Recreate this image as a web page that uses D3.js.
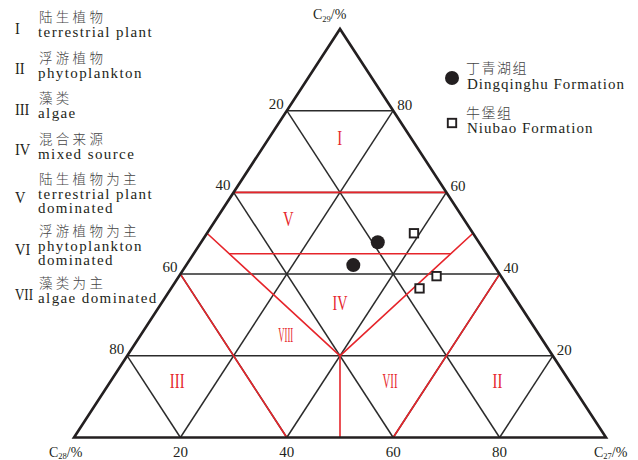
<!DOCTYPE html>
<html>
<head>
<meta charset="utf-8">
<script src="https://cdn.jsdelivr.net/npm/d3@7"></script>
<style>
  html, body { margin: 0; padding: 0; background: #fff; }
  svg { display: block; }
</style>
</head>
<body>
<script>
// Ternary diagram of sterane composition: C27 (lower right), C28 (lower left), C29 (apex).
// Every point is given as [C27, C28, C29] in percent.

const gridTicks = [20, 40, 60, 80];
const edgeTicks = [20, 40, 60, 80];

// Samples
const dingqinghu = [[33.2, 19.0, 47.8], [31.4, 26.4, 42.2]];
const niubao = [[38.9, 11.1, 50.0], [48.4, 12.1, 39.5], [46.7, 16.8, 36.5]];

// Source-zone boundaries (polylines)
const zoneLines = [
  [[0, 40, 60], [40, 0, 60]],
  [[0, 60, 40], [40, 60, 0]],
  [[60, 0, 40], [60, 40, 0]],
  [[0, 50, 50], [40, 40, 20], [50, 0, 50]],
  [[40, 40, 20], [50, 50, 0]],
  [[20 / 3, 145 / 3, 45], [145 / 3, 20 / 3, 45]]
];

// Zone numerals and where they sit
const zoneIds = ["I", "II", "III", "IV", "V", "VII", "VIII"];
const zoneAt = [
  [13.3, 13.4, 73.3],
  [72.6, 13.4, 14.0],
  [12.4, 73.6, 14.0],
  [33.5, 33.5, 33.0],
  [13.5, 32.9, 53.6],
  [52.4, 33.6, 14.0],
  [27.2, 47.6, 25.2]
];

// Legend of source types
const legendIds = ["I", "II", "III", "IV", "V", "VI", "VII"];
const legendZh = ["陆生植物", "浮游植物", "藻类", "混合来源", "陆生植物为主", "浮游植物为主", "藻类为主"];
const legendEn = [
  ["terrestrial plant"],
  ["phytoplankton"],
  ["algae"],
  ["mixed source"],
  ["terrestrial plant", "dominated"],
  ["phytoplankton", "dominated"],
  ["algae dominated"]
];

// Sample legend
const seriesZh = ["丁青湖组", "牛堡组"];
const seriesEn = ["Dingqinghu Formation", "Niubao Formation"];

const W = 638, H = 460;
const INK = "#231f20", GRID = "#2b2b2b", RED = "#e6252b";
const SERIF = "'Liberation Serif', 'DejaVu Serif', serif";
const CJK = "'Noto Sans CJK SC', sans-serif";

const svg = d3.select("body").append("svg")
  .attr("width", W).attr("height", H)
  .attr("viewBox", `0 0 ${W} ${H}`);

// Horizontal position follows C27 + C29/2, vertical follows C29
const xs = d3.scaleLinear().domain([0, 100]).range([74, 606]);
const ys = d3.scaleLinear().domain([0, 100]).range([437.5, 29]);
const P = ([a, b, c]) => [xs(a + c / 2), ys(c)];
const line = d3.line().x(d => P(d)[0]).y(d => P(d)[1]);

// Grid lines
const gridSegs = [];
gridTicks.forEach(t => {
  gridSegs.push([[0, 100 - t, t], [100 - t, 0, t]]);   // constant C29
  gridSegs.push([[t, 100 - t, 0], [t, 0, 100 - t]]);   // constant C27
  gridSegs.push([[100 - t, t, 0], [0, t, 100 - t]]);   // constant C28
});
svg.append("g").selectAll("path").data(gridSegs).join("path")
  .attr("d", line).attr("fill", "none")
  .attr("stroke", GRID).attr("stroke-width", 1.5);

// Zone boundaries
svg.append("g").selectAll("path").data(zoneLines).join("path")
  .attr("d", line).attr("fill", "none")
  .attr("stroke", RED).attr("stroke-width", 1.6)
  .attr("stroke-linejoin", "miter");

// Outer triangle
svg.append("path")
  .attr("d", line([[100, 0, 0], [0, 0, 100], [0, 100, 0]]) + "Z")
  .attr("fill", "none").attr("stroke", INK).attr("stroke-width", 2.6)
  .attr("stroke-linejoin", "miter");

// Squeeze Roman numerals into narrow, tall glyph boxes
function squeeze(sel, ratio, maxW) {
  sel.each(function () {
    const len = this.getComputedTextLength();
    d3.select(this).attr("textLength", Math.min(len * ratio, maxW))
      .attr("lengthAdjust", "spacingAndGlyphs");
  });
}

// Zone numerals
svg.append("g").selectAll("text").data(zoneIds).join("text")
  .attr("x", (d, i) => P(zoneAt[i])[0])
  .attr("y", (d, i) => P(zoneAt[i])[1])
  .attr("dy", "0.35em")
  .attr("text-anchor", "middle")
  .attr("font-family", SERIF).attr("font-size", 21)
  .attr("fill", RED)
  .text(d => d)
  .call(squeeze, 0.7, 15);

// Edge tick labels
const tickStyle = s => s.attr("font-family", SERIF).attr("font-size", 15).attr("fill", INK);
svg.append("g").selectAll("text").data(edgeTicks).join("text")   // C28 on the left edge
  .attr("x", v => P([0, v, 100 - v])[0] - 3)
  .attr("y", v => P([0, v, 100 - v])[1] - 2)
  .attr("text-anchor", "end").text(v => v).call(tickStyle);
svg.append("g").selectAll("text").data(edgeTicks).join("text")   // C29 on the right edge
  .attr("x", v => P([100 - v, 0, v])[0] + 4)
  .attr("y", v => P([100 - v, 0, v])[1] - 1)
  .attr("text-anchor", "start").text(v => v).call(tickStyle);
svg.append("g").selectAll("text").data(edgeTicks).join("text")   // C27 along the base
  .attr("x", v => P([v, 100 - v, 0])[0])
  .attr("y", v => P([v, 100 - v, 0])[1] + 19.5)
  .attr("text-anchor", "middle").text(v => v).call(tickStyle);

// Corner titles
function cornerTitle(x, y, sub) {
  const t = svg.append("text").attr("x", x).attr("y", y)
    .attr("font-family", SERIF).attr("font-size", 14).attr("fill", INK);
  t.append("tspan").text("C");
  t.append("tspan").attr("font-size", 8.5).attr("dy", 2.5).text(sub);
  t.append("tspan").attr("dy", -2.5).text("/%");
}
const apex = P([0, 0, 100]), left = P([0, 100, 0]), right = P([100, 0, 0]);
cornerTitle(apex[0] - 27, apex[1] - 10, "29");
cornerTitle(left[0] - 25, left[1] + 19, "28");
cornerTitle(right[0] - 12, right[1] + 19, "27");

// Samples
svg.append("g").selectAll("circle").data(dingqinghu).join("circle")
  .attr("cx", d => P(d)[0]).attr("cy", d => P(d)[1])
  .attr("r", 7).attr("fill", INK);
const sq = 8.4;
svg.append("g").selectAll("rect").data(niubao).join("rect")
  .attr("x", d => P(d)[0] - sq / 2).attr("y", d => P(d)[1] - sq / 2)
  .attr("width", sq).attr("height", sq)
  .attr("fill", "#fff").attr("stroke", INK).attr("stroke-width", 1.9);

// Source-type legend (left)
const lg = svg.append("g");
let yCur = 25;
legendIds.forEach((id, i) => {
  const en = legendEn[i];
  lg.append("text").attr("x", 39).attr("y", yCur - 3)
    .attr("font-family", CJK).attr("font-size", 13.5).attr("font-weight", 300)
    .attr("letter-spacing", 3.3)
    .attr("fill", "#444").text(legendZh[i]);
  en.forEach((s, j) => {
    lg.append("text").attr("x", 38).attr("y", yCur + 12 + 14 * j)
      .attr("font-family", SERIF).attr("font-size", 15).attr("letter-spacing", 1.4)
      .attr("fill", INK).text(s);
  });
  const lastEn = yCur + 12 + 14 * (en.length - 1);
  lg.append("text").attr("x", 15).attr("y", (yCur - 11 + lastEn) / 2 + 8)
    .attr("font-family", SERIF).attr("font-size", 17).attr("fill", INK)
    .text(id).call(squeeze, 0.85, 18);
  yCur += 40.5 + 11.5 * (en.length - 1);
});

// Sample legend (right)
const sg = svg.append("g");
sg.append("circle").attr("cx", 452).attr("cy", 78).attr("r", 7).attr("fill", INK);
sg.append("rect").attr("x", 452 - sq / 2).attr("y", 123 - sq / 2)
  .attr("width", sq).attr("height", sq)
  .attr("fill", "#fff").attr("stroke", INK).attr("stroke-width", 1.9);
[[73, 89], [118, 133]].forEach(([yz, ye], i) => {
  sg.append("text").attr("x", 466).attr("y", yz)
    .attr("font-family", CJK).attr("font-size", 14).attr("font-weight", 300)
    .attr("letter-spacing", 1.5)
    .attr("fill", "#444").text(seriesZh[i]);
  sg.append("text").attr("x", 467).attr("y", ye)
    .attr("font-family", SERIF).attr("font-size", 15).attr("letter-spacing", 1)
    .attr("fill", INK).text(seriesEn[i]);
});
</script>
</body>
</html>
